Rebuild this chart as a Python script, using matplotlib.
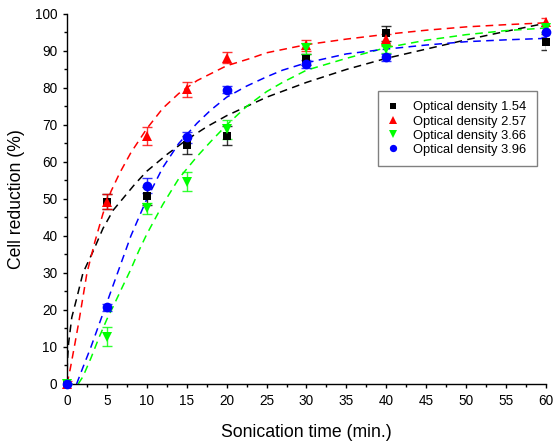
import numpy as np
import matplotlib
matplotlib.use("Agg")
import matplotlib.pyplot as plt
from matplotlib.ticker import MultipleLocator

plt.rcParams["font.family"] = ["Liberation Sans", "DejaVu Sans"]

# ---------- measured data -----------------------------------------------------
TIME = [0, 5, 10, 15, 20, 30, 40, 60]

od154 = [0, 49.3, 50.8, 64.6, 67.1, 87.8, 94.8, 92.4]
od154_err = [0, 2.0, 2.5, 2.5, 2.5, 1.5, 2.0, 2.2]
od257 = [0, 49.3, 67.0, 79.6, 88.2, 91.5, 93.2, 97.8]
od257_err = [0.8, 2.0, 2.5, 2.0, 1.5, 1.5, 1.5, 1.0]
od366 = [0, 12.8, 47.5, 54.7, 68.8, 90.7, 90.4, 96.2]
od366_err = [0, 2.5, 1.5, 2.5, 2.5, 1.5, 1.0, 1.0]
od396 = [0, 20.7, 53.6, 66.7, 79.5, 86.5, 88.3, 95.2]
od396_err = [0, 1.0, 2.0, 1.5, 1.0, 1.0, 1.0, 1.5]

# ---------- fitted curves -----------------------------------------------------
fit154_t = [0, 0.05, 0.2, 0.6, 1.2, 2, 3.3, 4.5, 5.8, 8.5, 10, 12.5, 15, 17.5,
            20, 22.5, 25, 30, 35, 40, 45, 50, 55, 60]
fit154_v = [0, 6, 11, 18, 23, 30, 36, 42, 47, 54, 57.5, 62, 66, 69.5,
            72.5, 75, 77.5, 81.5, 85, 88, 90.5, 93, 95.3, 97.5]
fit257_t = [0, 0.4, 1, 1.5, 2.5, 3.5, 4.5, 5.5, 6.6, 8, 10, 12, 14, 16.3,
            20, 23, 25, 30, 35, 40, 45, 50, 55, 60]
fit257_v = [0, 4, 11, 17, 30, 38.5, 46, 52, 57, 62.5, 69, 74.5, 78.5, 82,
            86, 88, 89.5, 91.7, 93.2, 94.5, 95.6, 96.5, 97.1, 97.6]
fit366_t = [1.4, 2, 3, 4, 5, 5.8, 7, 8, 9, 10, 12, 14, 16.3, 18, 20, 22.5,
            25, 27, 30, 35, 40, 45, 50, 55, 60]
fit366_v = [0, 2, 7, 12.5, 17.5, 21, 26.5, 31, 36, 40.5, 48.5, 55.5, 61.5,
            65.5, 70, 75, 79, 81.5, 84.8, 88, 90.9, 92.9, 94.4, 95.5, 96.2]
fit396_t = [1.2, 2, 3, 4, 5, 6, 7, 8, 9, 10, 12, 14, 16.3, 18, 20, 22.5, 25,
            27, 30, 35, 40, 45, 50, 55, 60]
fit396_v = [0, 4.5, 10, 16, 22, 28, 34, 40, 45, 50, 58.5, 65, 70.5, 74,
            77.5, 80.5, 83, 84.8, 86.8, 89.2, 90.5, 91.6, 92.5, 93, 93.4]

LABELS = ["Optical density 1.54", "Optical density 2.57",
          "Optical density 3.66", "Optical density 3.96"]

# ---------- styles -------------------------------------------------------------
series = [
    (od154, od154_err, fit154_t, fit154_v, "#000000", "s", 6.0),
    (od257, od257_err, fit257_t, fit257_v, "#ff0000", "^", 7.5),
    (od366, od366_err, fit366_t, fit366_v, "#00ff00", "v", 7.5),
    (od396, od396_err, fit396_t, fit396_v, "#0000ff", "o", 7.0),
]

fig = plt.figure(figsize=(5.56, 4.48), dpi=100)
ax = fig.add_axes([0.1205, 0.1429, 0.8615, 0.826])

handles = []
for (vals, errs, ft, fv, color, marker, ms), label in zip(series, LABELS):
    ax.plot(ft, fv, ls=(0, (5, 3.5)), color=color, lw=1.1, zorder=2)
    ax.errorbar(TIME, vals, yerr=errs, fmt="none", ecolor=color, elinewidth=1.0,
                capsize=3.5, capthick=1.0, zorder=3, alpha=0.8)
    h, = ax.plot(TIME, vals, ls="none", marker=marker, ms=ms, color=color,
                 markeredgewidth=0, zorder=4, label=label, clip_on=False)
    handles.append(h)

ax.set_xlim(0, 60)
ax.set_ylim(0, 100)
ax.xaxis.set_major_locator(MultipleLocator(5))
ax.xaxis.set_minor_locator(MultipleLocator(2.5))
ax.yaxis.set_major_locator(MultipleLocator(10))
ax.yaxis.set_minor_locator(MultipleLocator(5))
ax.tick_params(which="major", direction="out", length=3, width=1.0,
               labelsize=9.8, pad=4)
ax.tick_params(which="minor", direction="out", length=2, width=1.0)
for side in ("top", "right"):
    ax.spines[side].set_visible(False)
for side in ("left", "bottom"):
    ax.spines[side].set_linewidth(1.0)

ax.set_xlabel("Sonication time (min.)", fontsize=12.7, labelpad=12)
ax.set_ylabel("Cell reduction (%)", fontsize=12.7, labelpad=7)

leg = ax.legend(handles=handles, loc="upper right",
                bbox_to_anchor=(0.981, 0.792), fontsize=9.3, frameon=True,
                fancybox=False, edgecolor="#606060", markerscale=0.75,
                handlelength=0.7, handletextpad=1.2, labelspacing=0.17,
                borderpad=0.8, borderaxespad=0)
leg.get_frame().set_linewidth(1.0)

fig.savefig("out.png", dpi=100)
